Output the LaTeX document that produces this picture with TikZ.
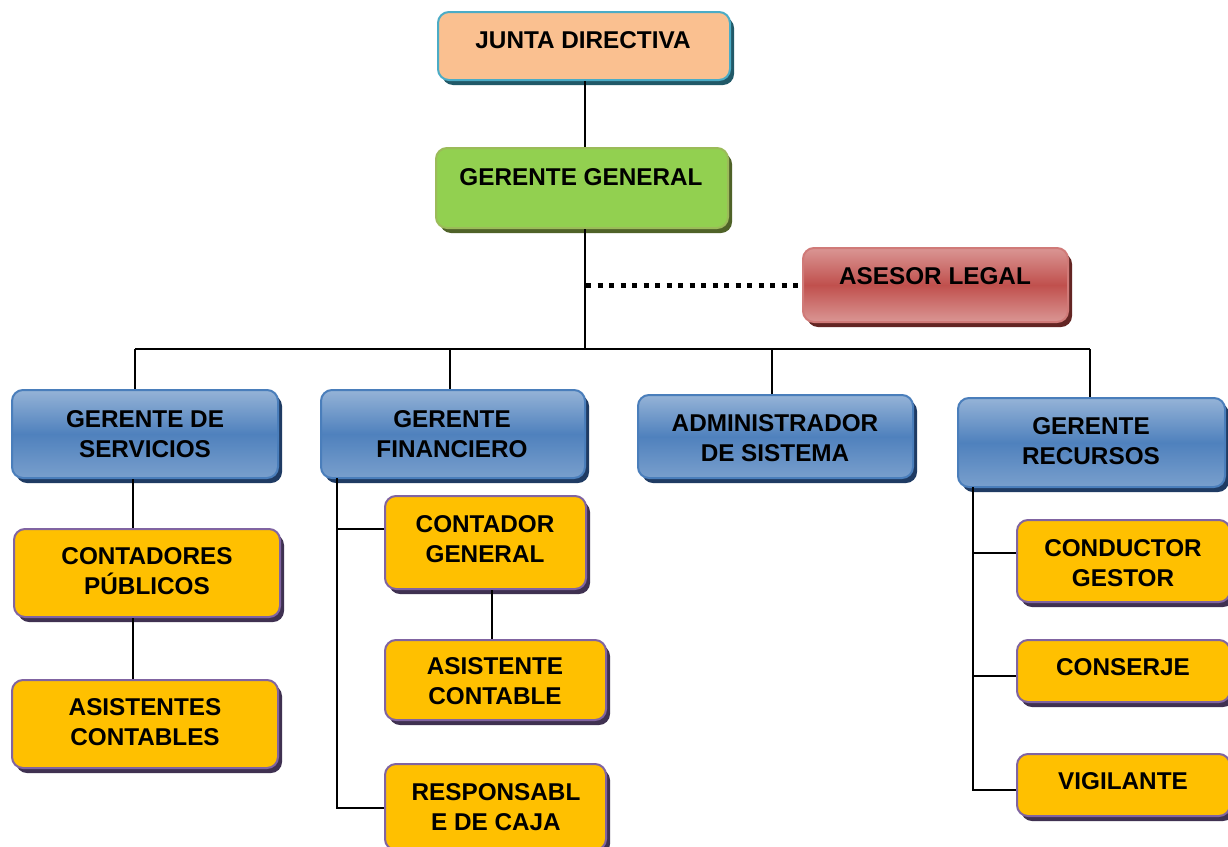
\documentclass[tikz,border=0pt]{standalone}
\usepackage{fontspec}
\setmainfont{Liberation Sans}
\usetikzlibrary{shadows}
\definecolor{jdfill}{HTML}{FAC090}
\definecolor{jdline}{HTML}{4BACC6}
\definecolor{jdshadow}{HTML}{215968}
\definecolor{ggfill}{HTML}{92D050}
\definecolor{ggline}{HTML}{9BBB59}
\definecolor{ggshadow}{HTML}{4F6228}
\definecolor{redmid}{HTML}{C0504D}
\definecolor{redlight}{HTML}{DA9694}
\definecolor{redshadow}{HTML}{632523}
\definecolor{bluemid}{HTML}{4F81BD}
\definecolor{bluelight}{HTML}{95B3D7}
\definecolor{blueline}{HTML}{4A7EBB}
\definecolor{blueshadow}{HTML}{1F3B63}
\definecolor{yelfill}{HTML}{FFC000}
\definecolor{yelline}{HTML}{8064A2}
\definecolor{yelshadow}{HTML}{3F3151}
\tikzset{
  box/.style={rectangle, rounded corners=11pt, line width=2pt, inner sep=0pt},
  jdbox/.style={box, fill=jdfill, draw=jdline, general shadow={fill=jdshadow, shadow xshift=4pt, shadow yshift=-5pt}},
  ggbox/.style={box, fill=ggfill, draw=ggline, general shadow={fill=ggshadow, shadow xshift=4pt, shadow yshift=-5pt}},
  redbox/.style={box, top color=redlight, bottom color=redlight, middle color=redmid, draw=redlight!60!redmid, general shadow={fill=redshadow, shadow xshift=4pt, shadow yshift=-5pt}},
  bluebox/.style={box, top color=bluelight, bottom color=bluelight!60!bluemid, middle color=bluemid, draw=blueline, general shadow={fill=blueshadow, shadow xshift=4pt, shadow yshift=-5pt}},
  yelbox/.style={box, fill=yelfill, draw=yelline, general shadow={fill=yelshadow, shadow xshift=4pt, shadow yshift=-5pt}},
  txt/.style={font=\fontsize{24.3}{29.5}\selectfont\bfseries, align=center, inner sep=0pt, text=black},
  conn/.style={line width=1.5pt, draw=black},
  dotline/.style={line width=5pt, dash pattern=on 5pt off 6.5pt, draw=black},
}
\begin{document}
\begin{tikzpicture}[x=1pt, y=-1pt]
\useasboundingbox (0,0) rectangle (1228,846);
\fill[white] (0,0) rectangle (1228,846);

\coordinate (busL) at (135,349);
\coordinate (busF) at (450,349);
\coordinate (busM) at (585,349);
\coordinate (busA) at (772,349);
\coordinate (busR) at (1090,349);
\coordinate (dotS) at (586,285);
\coordinate (gfV) at (337,478);
\coordinate (gfB) at (337,808);
\coordinate (grV) at (973,487);
\coordinate (grB) at (973,790);

% boxes
\node[jdbox, minimum width=292pt, minimum height=68pt] (jd) at (584,46) {};
\node[ggbox, minimum width=292pt, minimum height=80pt] (gg) at (582,188) {};
\node[redbox, minimum width=265pt, minimum height=74pt] (al) at (935.5,285) {};
\node[bluebox, minimum width=266pt, minimum height=88pt] (gs) at (145,434) {};
\node[bluebox, minimum width=264pt, minimum height=88pt] (gf) at (453,434) {};
\node[bluebox, minimum width=275pt, minimum height=83pt] (as) at (775.5,436.5) {};
\node[bluebox, minimum width=267pt, minimum height=89pt] (gr) at (1091.5,442.5) {};
\node[yelbox, minimum width=266pt, minimum height=88pt] (cp) at (147,573) {};
\node[yelbox, minimum width=266pt, minimum height=88pt] (ac) at (145,724) {};
\node[yelbox, minimum width=201pt, minimum height=93pt] (cg) at (485.5,542.5) {};
\node[yelbox, minimum width=221pt, minimum height=80pt] (asc) at (495.5,680) {};
\node[yelbox, minimum width=221pt, minimum height=86pt] (rc) at (495.5,807) {};
\node[yelbox, minimum width=213pt, minimum height=82pt] (cdg) at (1123.5,561) {};
\node[yelbox, minimum width=213pt, minimum height=62pt] (cs) at (1123.5,671) {};
\node[yelbox, minimum width=213pt, minimum height=62pt] (vg) at (1123.5,785) {};

% texts
\node[txt] (jdt) at (583,40) {JUNTA DIRECTIVA};
\node[txt] (ggt) at (581,177) {GERENTE GENERAL};
\node[txt] (alt) at (935,276) {ASESOR LEGAL};
\node[txt] (gst) at (145,434) {GERENTE DE\\SERVICIOS};
\node[txt] (gft) at (452,434) {GERENTE\\FINANCIERO};
\node[txt] (ast) at (775,438) {ADMINISTRADOR\\DE SISTEMA};
\node[txt] (grt) at (1091,441) {GERENTE\\RECURSOS};
\node[txt] (cpt) at (147,571) {CONTADORES\\PÚBLICOS};
\node[txt] (act) at (145,722) {ASISTENTES\\CONTABLES};
\node[txt] (cgt) at (485,539) {CONTADOR\\GENERAL};
\node[txt] (asct) at (495,681) {ASISTENTE\\CONTABLE};
\node[txt] (rct) at (496,807) {RESPONSABL\\E DE CAJA};
\node[txt] (cdgt) at (1123,563) {CONDUCTOR\\GESTOR};
\node[txt] (cst) at (1123,667) {CONSERJE};
\node[txt] (vgt) at (1123,781) {VIGILANTE};

% connectors
\draw[conn] (jd.south -| busM) -- (gg.north -| busM);
\draw[conn] (gg.south -| busM) -- (busM);
\draw[conn] (busL) -- (busR);
\draw[conn] (busL) -- (busL |- gs.north);
\draw[conn] (busF) -- (busF |- gf.north);
\draw[conn] (busA) -- (busA |- as.north);
\draw[conn] (busR) -- (busR |- gr.north);
\draw[dotline] (dotS) -- (al.west);
\draw[conn] (gs.south -| 133,0) -- (cp.north -| 133,0);
\draw[conn] (cp.south -| 133,0) -- (ac.north -| 133,0);
\draw[conn] (gfV) -- (gfB) -- (gfB -| rc.west);
\draw[conn] (gfV |- 0,529) -- (cg.west |- 0,529);
\draw[conn] (cg.south -| 492,0) -- (asc.north -| 492,0);
\draw[conn] (grV) -- (grB) -- (grB -| vg.west);
\draw[conn] (grV |- 0,553) -- (cdg.west |- 0,553);
\draw[conn] (grV |- 0,676) -- (cs.west |- 0,676);
\end{tikzpicture}
\end{document}
